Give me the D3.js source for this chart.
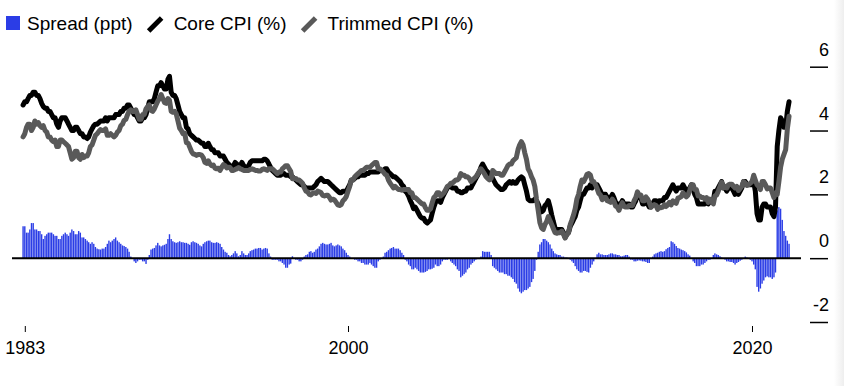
<!DOCTYPE html>
<html>
<head>
<meta charset="utf-8">
<script src="https://cdn.jsdelivr.net/npm/d3@7"></script>
<style>
  html, body { margin: 0; padding: 0; background: #fff; }
  svg { display: block; font-family: "Liberation Sans", Arial, Helvetica, sans-serif; }
</style>
</head>
<body>
<script>
// monthly series, first value = Dec 1983, last = Nov 2021
const firstMonth = new Date(1983, 11, 1);

const core = [
  4.8,
  4.9, 4.9, 5.0, 5.1, 5.1, 5.2, 5.2, 5.1, 5.1, 5.0, 4.85, 4.75,
  4.7, 4.7, 4.6, 4.6, 4.5, 4.4, 4.4, 4.2, 4.1, 4.3, 4.4, 4.4,
  4.4, 4.3, 4.2, 4.1, 4.0, 4.0, 4.1, 4.1, 4.0, 3.9, 3.9, 3.8,
  3.8, 3.75, 3.8, 3.95, 4.05, 4.15, 4.2, 4.2, 4.25, 4.3, 4.3, 4.3,
  4.4, 4.3, 4.4, 4.4, 4.4, 4.4, 4.5, 4.5, 4.5, 4.6, 4.6, 4.7,
  4.7, 4.8, 4.8, 4.7, 4.6, 4.5, 4.5, 4.4, 4.3, 4.3, 4.4, 4.4,
  4.5, 4.7, 4.9, 4.9, 4.9, 5.0, 5.2, 5.4, 5.4, 5.5, 5.4, 5.3,
  5.3, 5.6, 5.7, 5.2, 5.1, 5.1, 5.0, 4.8, 4.6, 4.5, 4.4, 4.4,
  4.1, 4.05, 3.9, 3.85, 3.8, 3.75, 3.7, 3.7, 3.65, 3.6, 3.6, 3.5,
  3.5, 3.6, 3.5, 3.4, 3.4, 3.3, 3.3, 3.3, 3.2, 3.2, 3.2, 3.1,
  3.0, 2.95, 2.9, 2.85, 2.9, 3.0, 2.95, 2.9, 2.9, 3.0, 2.9, 2.85,
  2.85, 2.9, 3.0, 3.05, 3.05, 3.05, 3.05, 3.05, 3.05, 3.05, 3.1, 3.1,
  3.05, 2.95, 2.85, 2.75, 2.7, 2.65, 2.6, 2.6, 2.6, 2.65, 2.65, 2.6,
  2.6, 2.6, 2.55, 2.55, 2.5, 2.45, 2.4, 2.35, 2.3, 2.3, 2.25, 2.2,
  2.2, 2.2, 2.2, 2.2, 2.25, 2.3, 2.4, 2.45, 2.5, 2.45, 2.4, 2.4,
  2.4, 2.35, 2.3, 2.25, 2.2, 2.15, 2.1, 2.05, 2.05, 2.1, 2.1, 2.1,
  2.2, 2.3, 2.45, 2.45, 2.5, 2.55, 2.55, 2.6, 2.6, 2.6, 2.6, 2.65,
  2.65, 2.7, 2.7, 2.7, 2.7, 2.7, 2.7, 2.75, 2.75, 2.75, 2.8, 2.8,
  2.7, 2.65, 2.6, 2.55, 2.55, 2.5, 2.45, 2.4, 2.3, 2.25, 2.1, 2.05,
  1.95, 1.8, 1.7, 1.55, 1.6, 1.5, 1.4, 1.3, 1.25, 1.25, 1.15, 1.1,
  1.15, 1.2, 1.4, 1.6, 1.75, 1.8, 1.8, 1.75, 1.9, 2.0, 2.1, 2.2,
  2.25, 2.25, 2.2, 2.2, 2.2, 2.1, 2.1, 2.05, 2.05, 2.1, 2.1, 2.2,
  2.2, 2.2, 2.3, 2.4, 2.5, 2.6, 2.7, 2.85, 2.95, 2.85, 2.75, 2.7,
  2.65, 2.6, 2.5, 2.4, 2.3, 2.25, 2.2, 2.15, 2.15, 2.2, 2.3, 2.35,
  2.4, 2.35, 2.4, 2.35, 2.35, 2.45, 2.5, 2.55, 2.5, 2.3, 2.1, 1.85,
  1.8, 1.8, 1.8, 1.85, 1.8, 1.7, 1.55, 1.45, 1.5, 1.65, 1.7, 1.8,
  1.6, 1.35, 1.15, 0.95, 0.9, 0.9, 0.9, 0.9, 0.8, 0.65, 0.75, 0.8,
  1.0, 1.1, 1.2, 1.3, 1.5, 1.6, 1.8, 2.0, 2.0, 2.1, 2.2, 2.2,
  2.3, 2.2, 2.3, 2.3, 2.3, 2.2, 2.1, 1.95, 2.0, 2.0, 1.9, 1.9,
  1.9, 2.0, 1.9, 1.75, 1.7, 1.6, 1.7, 1.8, 1.7, 1.7, 1.7, 1.7,
  1.6, 1.6, 1.7, 1.8, 2.0, 1.9, 1.9, 1.7, 1.7, 1.8, 1.7, 1.6,
  1.6, 1.7, 1.8, 1.8, 1.7, 1.8, 1.8, 1.8, 1.9, 1.9, 2.0, 2.1,
  2.2, 2.3, 2.2, 2.1, 2.2, 2.2, 2.2, 2.3, 2.2, 2.1, 2.1, 2.2,
  2.3, 2.2, 2.0, 1.9, 1.7, 1.7, 1.7, 1.7, 1.7, 1.8, 1.7, 1.8,
  1.8, 1.8, 2.1, 2.1, 2.2, 2.3, 2.4, 2.2, 2.2, 2.1, 2.2, 2.2,
  2.2, 2.1, 2.0, 2.1, 2.0, 2.1, 2.2, 2.4, 2.4, 2.3, 2.3, 2.3,
  2.3, 2.4, 2.1, 1.4, 1.2, 1.2, 1.6, 1.7, 1.7, 1.6, 1.6, 1.6,
  1.4, 1.3, 1.6, 3.5, 4.0, 4.4, 4.3, 4.1, 4.1, 4.6, 4.9
];

const trimmed = [
  3.8,
  3.9, 4.1, 4.2, 4.2, 4.0, 4.1, 4.3, 4.2, 4.25, 4.15, 4.1, 4.15,
  4.0, 3.95, 3.8, 3.8, 3.7, 3.65, 3.7, 3.5, 3.5, 3.7, 3.7, 3.65,
  3.6, 3.55, 3.5, 3.3, 3.1, 3.15, 3.35, 3.35, 3.15, 3.1, 3.25, 3.15,
  3.2, 3.2, 3.3, 3.5, 3.55, 3.7, 3.85, 3.9, 3.97, 4.03, 4.0, 4.0,
  4.05, 3.85, 3.85, 3.9, 3.85, 3.8, 3.85, 3.95, 4.0, 4.15, 4.2, 4.32,
  4.35, 4.5, 4.6, 4.65, 4.6, 4.6, 4.65, 4.5, 4.35, 4.35, 4.5, 4.5,
  4.68, 4.75, 4.8, 4.63, 4.6, 4.68, 4.8, 4.92, 5.0, 5.13, 5.0, 4.88,
  4.85, 5.0, 4.95, 4.6, 4.57, 4.6, 4.52, 4.3, 4.07, 4.0, 3.9, 3.92,
  3.62, 3.6, 3.48, 3.35, 3.27, 3.25, 3.22, 3.25, 3.25, 3.23, 3.15, 3.0,
  2.97, 3.05, 2.95, 2.9, 2.92, 2.82, 2.8, 2.82, 2.75, 2.85, 2.93, 2.9,
  2.83, 2.85, 2.84, 2.75, 2.75, 2.78, 2.8, 2.84, 2.8, 2.78, 2.75, 2.75,
  2.75, 2.75, 2.78, 2.8, 2.78, 2.75, 2.75, 2.73, 2.73, 2.78, 2.8, 2.78,
  2.75, 2.8, 2.8, 2.8, 2.75, 2.7, 2.65, 2.7, 2.7, 2.8, 2.85, 2.9,
  2.9, 2.8, 2.72, 2.49, 2.5, 2.5, 2.45, 2.45, 2.4, 2.35, 2.2, 2.1,
  2.08, 2.0, 1.98, 2.03, 2.05, 2.03, 2.1, 2.08, 2.05, 1.97, 1.95, 1.97,
  1.97, 1.9, 1.82, 1.85, 1.83, 1.75, 1.67, 1.65, 1.68, 1.8, 1.85, 1.93,
  2.1, 2.25, 2.45, 2.45, 2.55, 2.6, 2.65, 2.7, 2.75, 2.75, 2.8, 2.85,
  2.85, 2.85, 2.9, 2.95, 3.0, 3.0, 2.8, 2.8, 2.75, 2.7, 2.63, 2.6,
  2.45, 2.35, 2.28, 2.2, 2.25, 2.2, 2.15, 2.15, 2.13, 2.15, 2.15, 2.15,
  2.15, 2.05, 2.05, 1.9, 1.9, 1.85, 1.8, 1.75, 1.7, 1.7, 1.58, 1.5,
  1.5, 1.55, 1.73, 1.9, 1.95, 2.05, 2.05, 1.95, 2.0, 2.05, 2.15, 2.25,
  2.28, 2.35, 2.35, 2.4, 2.45, 2.45, 2.5, 2.65, 2.6, 2.6, 2.55, 2.55,
  2.5, 2.4, 2.45, 2.5, 2.55, 2.63, 2.73, 2.8, 2.73, 2.65, 2.55, 2.5,
  2.45, 2.5, 2.75, 2.7, 2.65, 2.65, 2.65, 2.6, 2.6, 2.7, 2.8, 2.9,
  2.95, 2.95, 3.05, 3.1, 3.15, 3.4, 3.55, 3.65, 3.55, 3.3, 3.1, 2.8,
  2.7, 2.55, 2.45, 2.25, 1.85, 1.5, 1.12, 0.95, 0.9, 1.05, 1.15, 1.3,
  1.17, 1.05, 0.93, 0.8, 0.78, 0.8, 0.8, 0.85, 0.75, 0.63, 0.73, 0.8,
  1.05, 1.2, 1.35, 1.55, 1.85, 2.0, 2.25, 2.45, 2.4, 2.5, 2.63, 2.65,
  2.6, 2.4, 2.4, 2.3, 2.18, 2.03, 1.98, 1.83, 1.9, 1.9, 1.8, 1.78,
  1.75, 1.85, 1.78, 1.63, 1.6, 1.5, 1.64, 1.74, 1.62, 1.6, 1.6, 1.65,
  1.65, 1.65, 1.8, 1.9, 2.08, 1.97, 1.98, 1.8, 1.8, 1.92, 1.85, 1.75,
  1.6, 1.65, 1.68, 1.65, 1.53, 1.6, 1.58, 1.6, 1.68, 1.62, 1.68, 1.75,
  1.67, 1.8, 1.75, 1.72, 1.88, 1.9, 1.93, 2.05, 1.98, 1.92, 1.98, 2.12,
  2.3, 2.3, 2.15, 2.15, 1.95, 1.95, 1.9, 1.9, 1.85, 1.9, 1.75, 1.85,
  1.8, 1.7, 1.95, 1.98, 2.1, 2.24, 2.38, 2.2, 2.25, 2.2, 2.3, 2.32,
  2.32, 2.25, 2.2, 2.25, 2.12, 2.18, 2.25, 2.4, 2.35, 2.28, 2.3, 2.35,
  2.4, 2.6, 2.45, 2.3, 2.25, 2.15, 2.4, 2.4, 2.3, 2.17, 2.2, 2.2,
  2.05, 1.9, 2.05, 2.0, 2.4, 2.85, 3.1, 3.25, 3.4, 4.05, 4.45
];

const spread = [
  1.0,
  1.0, 0.8, 0.8, 0.9, 1.1, 1.1, 0.9, 0.9, 0.85, 0.85, 0.75, 0.6,
  0.7, 0.75, 0.8, 0.8, 0.8, 0.75, 0.7, 0.7, 0.6, 0.6, 0.7, 0.75,
  0.8, 0.75, 0.7, 0.8, 0.9, 0.85, 0.75, 0.75, 0.85, 0.8, 0.65, 0.65,
  0.6, 0.55, 0.5, 0.45, 0.5, 0.45, 0.35, 0.3, 0.28, 0.27, 0.3, 0.3,
  0.35, 0.45, 0.55, 0.5, 0.55, 0.6, 0.65, 0.55, 0.5, 0.45, 0.4, 0.38,
  0.35, 0.3, 0.2, 0.05, 0, -0.1, -0.15, -0.1, -0.05, -0.05, -0.1, -0.1,
  -0.18, -0.05, 0.1, 0.27, 0.3, 0.32, 0.4, 0.48, 0.4, 0.37, 0.4, 0.42,
  0.45, 0.6, 0.75, 0.6, 0.53, 0.5, 0.48, 0.5, 0.53, 0.5, 0.5, 0.48,
  0.48, 0.45, 0.42, 0.5, 0.53, 0.5, 0.48, 0.45, 0.4, 0.37, 0.45, 0.5,
  0.53, 0.55, 0.55, 0.5, 0.48, 0.48, 0.5, 0.48, 0.45, 0.35, 0.27, 0.2,
  0.17, 0.1, 0.06, 0.1, 0.15, 0.22, 0.15, 0.06, 0.1, 0.22, 0.15, 0.1,
  0.1, 0.15, 0.22, 0.25, 0.27, 0.3, 0.3, 0.32, 0.32, 0.27, 0.3, 0.32,
  0.3, 0.15, 0.05, -0.05, -0.05, -0.05, -0.05, -0.1, -0.1, -0.15, -0.2, -0.3,
  -0.3, -0.2, -0.17, 0.06, 0, -0.05, -0.05, -0.1, -0.1, -0.05, 0.05, 0.1,
  0.12, 0.2, 0.22, 0.17, 0.2, 0.27, 0.3, 0.37, 0.45, 0.48, 0.45, 0.43,
  0.43, 0.45, 0.48, 0.4, 0.37, 0.4, 0.43, 0.4, 0.37, 0.3, 0.25, 0.17,
  0.1, 0.05, 0, 0, -0.05, -0.05, -0.1, -0.1, -0.15, -0.15, -0.2, -0.2,
  -0.2, -0.15, -0.2, -0.25, -0.3, -0.3, -0.1, -0.05, 0, 0.05, 0.17, 0.2,
  0.25, 0.3, 0.32, 0.35, 0.3, 0.3, 0.3, 0.25, 0.17, 0.1, -0.05, -0.1,
  -0.2, -0.25, -0.35, -0.35, -0.3, -0.35, -0.4, -0.45, -0.45, -0.45, -0.43, -0.4,
  -0.35, -0.35, -0.33, -0.3, -0.2, -0.25, -0.25, -0.2, -0.1, -0.05, -0.05, -0.05,
  -0.03, -0.1, -0.15, -0.2, -0.25, -0.35, -0.4, -0.6, -0.55, -0.5, -0.45, -0.35,
  -0.3, -0.2, -0.15, -0.1, -0.05, -0.03, -0.03, 0.05, 0.22, 0.2, 0.2, 0.2,
  0.2, 0.1, -0.25, -0.3, -0.35, -0.4, -0.45, -0.45, -0.45, -0.5, -0.5, -0.55,
  -0.55, -0.6, -0.65, -0.75, -0.8, -0.95, -1.05, -1.1, -1.05, -1.0, -1.0, -0.95,
  -0.9, -0.75, -0.65, -0.4, -0.05, 0.2, 0.43, 0.5, 0.6, 0.6, 0.55, 0.5,
  0.43, 0.3, 0.22, 0.15, 0.12, 0.1, 0.1, 0.05, 0.05, 0.02, 0.02, 0,
  -0.05, -0.1, -0.15, -0.25, -0.35, -0.4, -0.45, -0.45, -0.4, -0.4, -0.43, -0.45,
  -0.3, -0.2, -0.1, 0, 0.12, 0.17, 0.12, 0.12, 0.1, 0.1, 0.1, 0.12,
  0.15, 0.15, 0.12, 0.12, 0.1, 0.1, 0.06, 0.06, 0.08, 0.1, 0.1, 0.05,
  -0.05, -0.05, -0.1, -0.1, -0.08, -0.07, -0.08, -0.1, -0.1, -0.12, -0.15, -0.15,
  0, 0.05, 0.12, 0.15, 0.17, 0.2, 0.22, 0.2, 0.22, 0.28, 0.32, 0.35,
  0.53, 0.5, 0.45, 0.38, 0.32, 0.3, 0.27, 0.25, 0.22, 0.18, 0.12, 0.08,
  0, -0.1, -0.15, -0.25, -0.25, -0.25, -0.2, -0.2, -0.15, -0.1, -0.05, -0.05,
  0, 0.1, 0.15, 0.12, 0.1, 0.06, 0.02, 0, -0.05, -0.1, -0.1, -0.12,
  -0.12, -0.15, -0.2, -0.15, -0.12, -0.08, -0.05, 0, 0.05, 0.02, 0, -0.05,
  -0.1, -0.2, -0.35, -0.9, -1.05, -0.95, -0.8, -0.7, -0.6, -0.57, -0.6, -0.6,
  -0.65, -0.6, -0.45, 1.5, 1.6, 1.55, 1.2, 0.85, 0.7, 0.55, 0.45
];

const yTicks = [-2, 0, 2, 4, 6];
const xTickDates = [new Date(1984, 0, 1), new Date(2000, 0, 1), new Date(2020, 0, 1)];
const xTickLabels = ["1983", "2000", "2020"];

const legendItems = [
  { label: "Spread (ppt)", kind: "box", color: "#2b3de6" },
  { label: "Core CPI (%)", kind: "pen", color: "#000000" },
  { label: "Trimmed CPI (%)", kind: "pen", color: "#595959" }
];

const w = 844;
const h = 386;
const months = core.map((_, i) => d3.timeMonth.offset(firstMonth, i));

const svg = d3.select("body").append("svg").attr("width", w).attr("height", h);

// faint grey strip on the right edge
const grad = svg.append("defs").append("linearGradient").attr("id", "edge");
grad.append("stop").attr("offset", "0").attr("stop-color", "#ffffff");
grad.append("stop").attr("offset", "1").attr("stop-color", "#eeeeee");
svg.append("rect").attr("x", 834).attr("y", 0).attr("width", 10).attr("height", h)
  .attr("fill", "url(#edge)");

const x = d3.scaleTime()
  .domain([new Date(2000, 0, 1), new Date(2020, 0, 1)])
  .range([348, 752]);

const y = d3.scaleLinear().domain([-2, 6]).range([322, 66.7]);

// spread bars
svg.append("g")
  .selectAll("rect")
  .data(spread)
  .join("rect")
  .attr("x", (d, i) => x(months[i]) - 0.7)
  .attr("width", 1.4)
  .attr("y", d => Math.min(y(d), y(0)))
  .attr("height", d => Math.abs(y(d) - y(0)))
  .attr("fill", "#2b3de6");

// zero line
svg.append("line")
  .attr("x1", 12).attr("x2", 801)
  .attr("y1", y(0)).attr("y2", y(0))
  .attr("stroke", "#000").attr("stroke-width", 2);

// lines
const line = d3.line()
  .x((d, i) => x(months[i]))
  .y(d => y(d));

svg.append("path")
  .datum(core)
  .attr("d", line)
  .attr("fill", "none")
  .attr("stroke", "#000")
  .attr("stroke-width", 5)
  .attr("stroke-linejoin", "round")
  .attr("stroke-linecap", "round");

svg.append("path")
  .datum(trimmed)
  .attr("d", line)
  .attr("fill", "none")
  .attr("stroke", "#595959")
  .attr("stroke-width", 5)
  .attr("stroke-linejoin", "round")
  .attr("stroke-linecap", "round");

// right axis, labels sit above the tick marks
const yAxis = svg.append("g")
  .attr("transform", "translate(828,0)")
  .call(d3.axisLeft(y).tickValues(yTicks).tickSize(18).tickFormat(d => d));
yAxis.select(".domain").remove();
yAxis.selectAll(".tick line").attr("stroke", "#000").attr("stroke-width", 1.5);
yAxis.selectAll(".tick text")
  .attr("x", 1)
  .attr("dy", -11.5)
  .attr("text-anchor", "end")
  .attr("fill", "#000")
  .style("font-size", "18px")
  .style("font-family", "'Liberation Sans', Arial, sans-serif");

// bottom axis
const xAxis = svg.append("g")
  .attr("transform", "translate(0,326)")
  .call(d3.axisBottom(x).tickValues(xTickDates).tickSize(6)
    .tickFormat((d, i) => xTickLabels[i]));
xAxis.select(".domain").remove();
xAxis.selectAll(".tick line").attr("stroke", "#000").attr("stroke-width", 1);
xAxis.selectAll(".tick text")
  .attr("y", 15)
  .attr("fill", "#000")
  .style("font-size", "18px")
  .style("font-family", "'Liberation Sans', Arial, sans-serif");

// legend
const legend = svg.append("g");
let lx = 6;
legendItems.forEach(item => {
  if (item.kind === "box") {
    legend.append("rect").attr("x", lx).attr("y", 16).attr("width", 14).attr("height", 14)
      .attr("fill", item.color);
    lx += 21;
  } else {
    legend.append("line")
      .attr("x1", lx + 3).attr("y1", 31).attr("x2", lx + 16).attr("y2", 18)
      .attr("stroke", item.color).attr("stroke-width", 5);
    lx += 28;
  }
  const t = legend.append("text")
    .attr("x", lx).attr("y", 30)
    .attr("fill", "#000")
    .style("font-size", "19px")
    .text(item.label);
  lx += t.node().getComputedTextLength() + 13;
});
</script>
</body>
</html>
